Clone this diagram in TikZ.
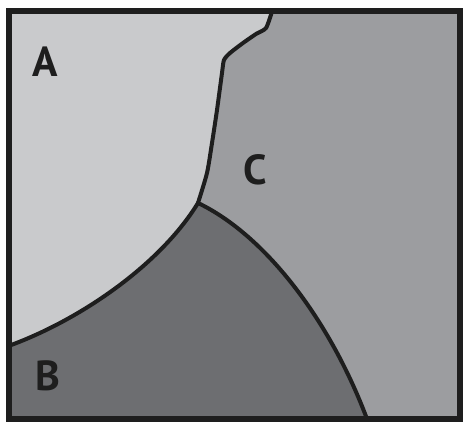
\documentclass[tikz,border=0pt]{standalone}
\usepackage{fontspec}
\setmainfont{PT Sans}
\usepackage{xcolor}
\definecolor{grainA}{HTML}{C9CACC}
\definecolor{grainB}{HTML}{6D6E71}
\definecolor{grainC}{HTML}{9C9DA0}
\definecolor{ink}{HTML}{1E1E1E}
\tikzset{
  every node/.style={font=\fontsize{42}{42}\selectfont\bfseries,text=ink},
  frame/.style={draw=ink,line width=6pt},
  boundary/.style={draw=ink,line width=4pt,line join=round,line cap=round},
  label/.style={inner sep=0pt},
}

\begin{document}
\begin{tikzpicture}[x=1pt,y=-1pt]
\useasboundingbox (0,0) rectangle (466,422);
\fill[white] (0,0) rectangle (466,422);
% corners, triple point and grain boundary ends
\coordinate (tl) at (8.5,11.5);
\coordinate (br) at (459.5,419);
\coordinate (bl) at (8.5,419);
\coordinate (junc) at (198,203);
\coordinate (topend) at (272,11.5);
\coordinate (leftend) at (8.5,346);
\coordinate (botend) at (367,419);
% grains
\fill[grainC] (tl) rectangle (br);
\fill[grainA] (tl) -- plot[smooth,tension=0.4] coordinates {(272,11.5) (266,28) (256,34) (243,43) (230,53) (224,60) (222,73) (217,110) (212,143) (207,173) (198,203)}
  .. controls (160,265) and (80,320) .. (leftend) -- cycle;
\fill[grainB] (junc) .. controls (265,235) and (330,320) .. (botend)
  -- (bl) -- (leftend) .. controls (80,320) and (160,265) .. (junc) -- cycle;
% grain boundaries
\draw[boundary] plot[smooth,tension=0.4] coordinates {(272,11.5) (266,28) (256,34) (243,43) (230,53) (224,60) (222,73) (217,110) (212,143) (207,173) (198,203)};
\draw[boundary] (junc) .. controls (160,265) and (80,320) .. (leftend);
\draw[boundary] (junc) .. controls (265,235) and (330,320) .. (botend);
\draw[frame] (tl) rectangle (br);
% labels
\node[label] (A) at (45,62) {A};
\node[label] (B) at (48,376) {B};
\node[label] (C) at (255,170) {C};
\end{tikzpicture}
\end{document}
